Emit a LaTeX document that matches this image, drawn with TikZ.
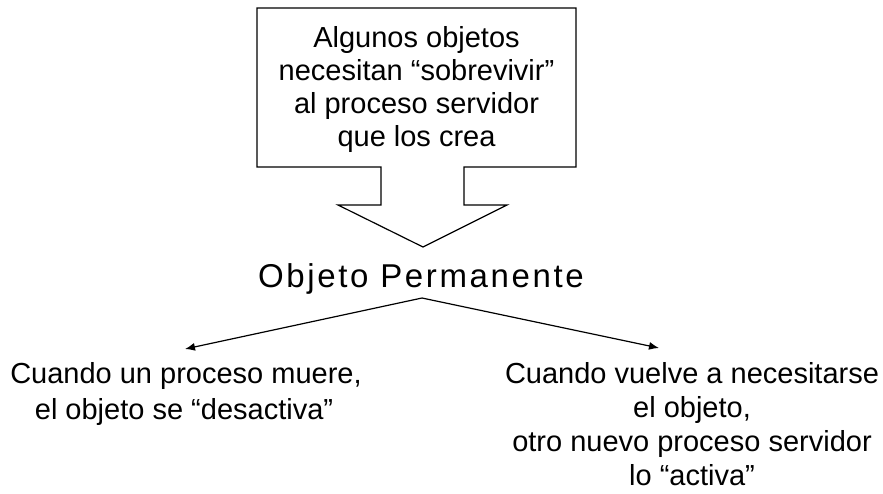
\documentclass[tikz,border=0pt]{standalone}
\usepackage{fontspec}
\setmainfont{Liberation Sans}
\usetikzlibrary{arrows.meta}
\tikzset{
  outline/.style={draw=black, line width=1.2pt, line join=miter},
  boxtext/.style={align=center, inner sep=0pt, font=\fontsize{29}{33}\selectfont},
  titletext/.style={inner sep=0pt, font=\fontsize{33}{38}\selectfont\addfontfeature{LetterSpace=8}},
  lowtext/.style={align=center, inner sep=0pt, font=\fontsize{29}{34}\selectfont},
  link/.style={draw=black, line width=1.2pt, -{Latex[length=10pt,width=8pt]}}
}
\begin{document}
\begin{tikzpicture}[x=1pt,y=-1pt]
\useasboundingbox (0,0) rectangle (883,493);
% callout box with downward block arrow
\draw[outline] (257,8) -- (576,8) -- (576,167) -- (464,167) -- (464,205) -- (507,205)
  -- (423,247) -- (338,205) -- (381,205) -- (381,167) -- (257,167) -- cycle;
\node[boxtext, anchor=north] (box) at (416.5,26.5)
  {Algunos objetos\\necesitan “sobrevivir”\\al proceso servidor\\que los crea};
\node[titletext, anchor=base] (perm) at (421,287) {Objeto Permanente};
\coordinate (apex) at (422,298);
\node[lowtext, anchor=base] (left) at (186,383) {Cuando un proceso muere,};
\node[lowtext, anchor=base] (left2) at (184,419) {el objeto se “desactiva”};
\node[lowtext, anchor=base] (right) at (692,383) {Cuando vuelve a necesitarse};
\node[lowtext, anchor=base] (right2) at (692,417) {el objeto,};
\node[lowtext, anchor=base] (right3) at (692,451) {otro nuevo proceso servidor};
\node[lowtext, anchor=base] (right4) at (692,485) {lo “activa”};
\coordinate (ltip) at (185,349);
\coordinate (rtip) at (659,348);
\draw[link] (apex) -- (ltip);
\draw[link] (apex) -- (rtip);
\end{tikzpicture}
\end{document}
